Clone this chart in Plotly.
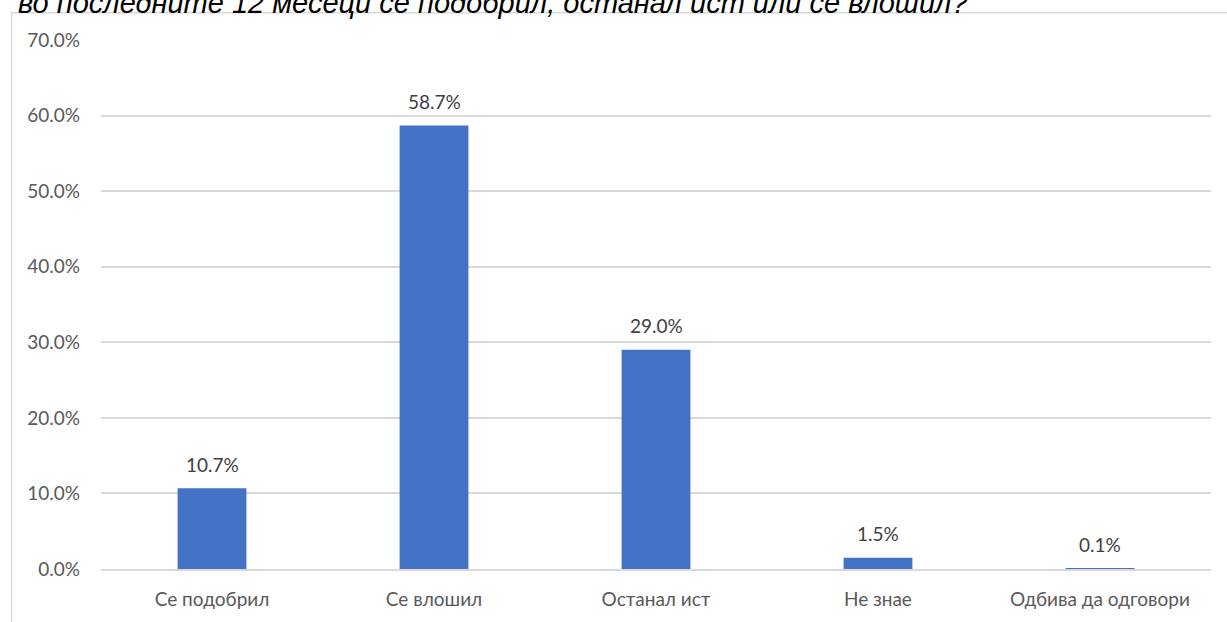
import plotly.graph_objects as go

categories = ["Се подобрил", "Се влошил", "Останал ист", "Не знае", "Одбива да одговори"]
values = [10.7, 58.7, 29.0, 1.5, 0.1]
tick_vals = [0, 10, 20, 30, 40, 50, 60, 70]
tick_text = ["0.0%", "10.0%", "20.0%", "30.0%", "40.0%", "50.0%", "60.0%", "70.0%"]
title_text = "во последните 12 месеци се подобрил, останал ист или се влошил?"

W, H = 1227, 622
L, R, T, B = 101, 16, 40, 50
pw, ph = W - L - R, H - T - B

def px_x(x):
    return (x - L) / pw

def px_y(y):
    return 1 + (T - y) / ph

FONT = "Lato, Carlito, sans-serif"

fig = go.Figure()
fig.add_trace(go.Bar(
    x=categories, y=values,
    marker=dict(color="#4472C4", line=dict(width=0)),
    width=0.31,
    hoverinfo="skip",
))

annotations = []
for c, v in zip(categories, values):
    annotations.append(dict(
        x=c, y=v, xref="x", yref="y", text=f"{v:.1f}%", showarrow=False,
        yanchor="middle", yshift=24,
        font=dict(family=FONT, size=19, color="#404040"),
    ))
annotations.append(dict(
    x=px_x(16), y=px_y(21), xref="paper", yref="paper", xanchor="left", yanchor="bottom",
    text=title_text, showarrow=False,
    font=dict(family="Liberation Sans, Arial, sans-serif", size=29, color="#000000", style="italic"),
))

fig.update_layout(
    width=W, height=H,
    margin=dict(l=L, r=R, t=T, b=B, pad=0),
    paper_bgcolor="white", plot_bgcolor="white",
    showlegend=False,
    bargap=0.69,
    annotations=annotations,
    shapes=[
        dict(type="line", xref="paper", yref="paper", x0=px_x(11.5), x1=px_x(1240),
             y0=px_y(12.5), y1=px_y(12.5), line=dict(color="#D9D9D9", width=1.5)),
        dict(type="line", xref="paper", yref="paper", x0=px_x(11.5), x1=px_x(11.5),
             y0=px_y(12.5), y1=px_y(640), line=dict(color="#D9D9D9", width=1.5)),
    ],
    xaxis=dict(
        showline=True, linecolor="#D9D9D9", linewidth=1.5,
        showgrid=False, ticks="", ticklabelstandoff=12,
        tickfont=dict(family=FONT, size=19, color="#595959"),
    ),
    yaxis=dict(
        range=[0, 70], tickvals=tick_vals, ticktext=tick_text,
        showgrid=True, gridcolor="#D9D9D9", gridwidth=1.5,
        zeroline=False, showline=False, ticks="", ticklabelstandoff=20,
        tickfont=dict(family=FONT, size=19, color="#595959"),
    ),
)

fig.write_html(
    "out.html",
    config={"displayModeBar": False},
    post_script="document.documentElement.style.overflow='hidden';document.body.style.margin='0';document.body.style.padding='0';document.body.style.overflow='hidden';window.scrollTo(0,0);",
)
